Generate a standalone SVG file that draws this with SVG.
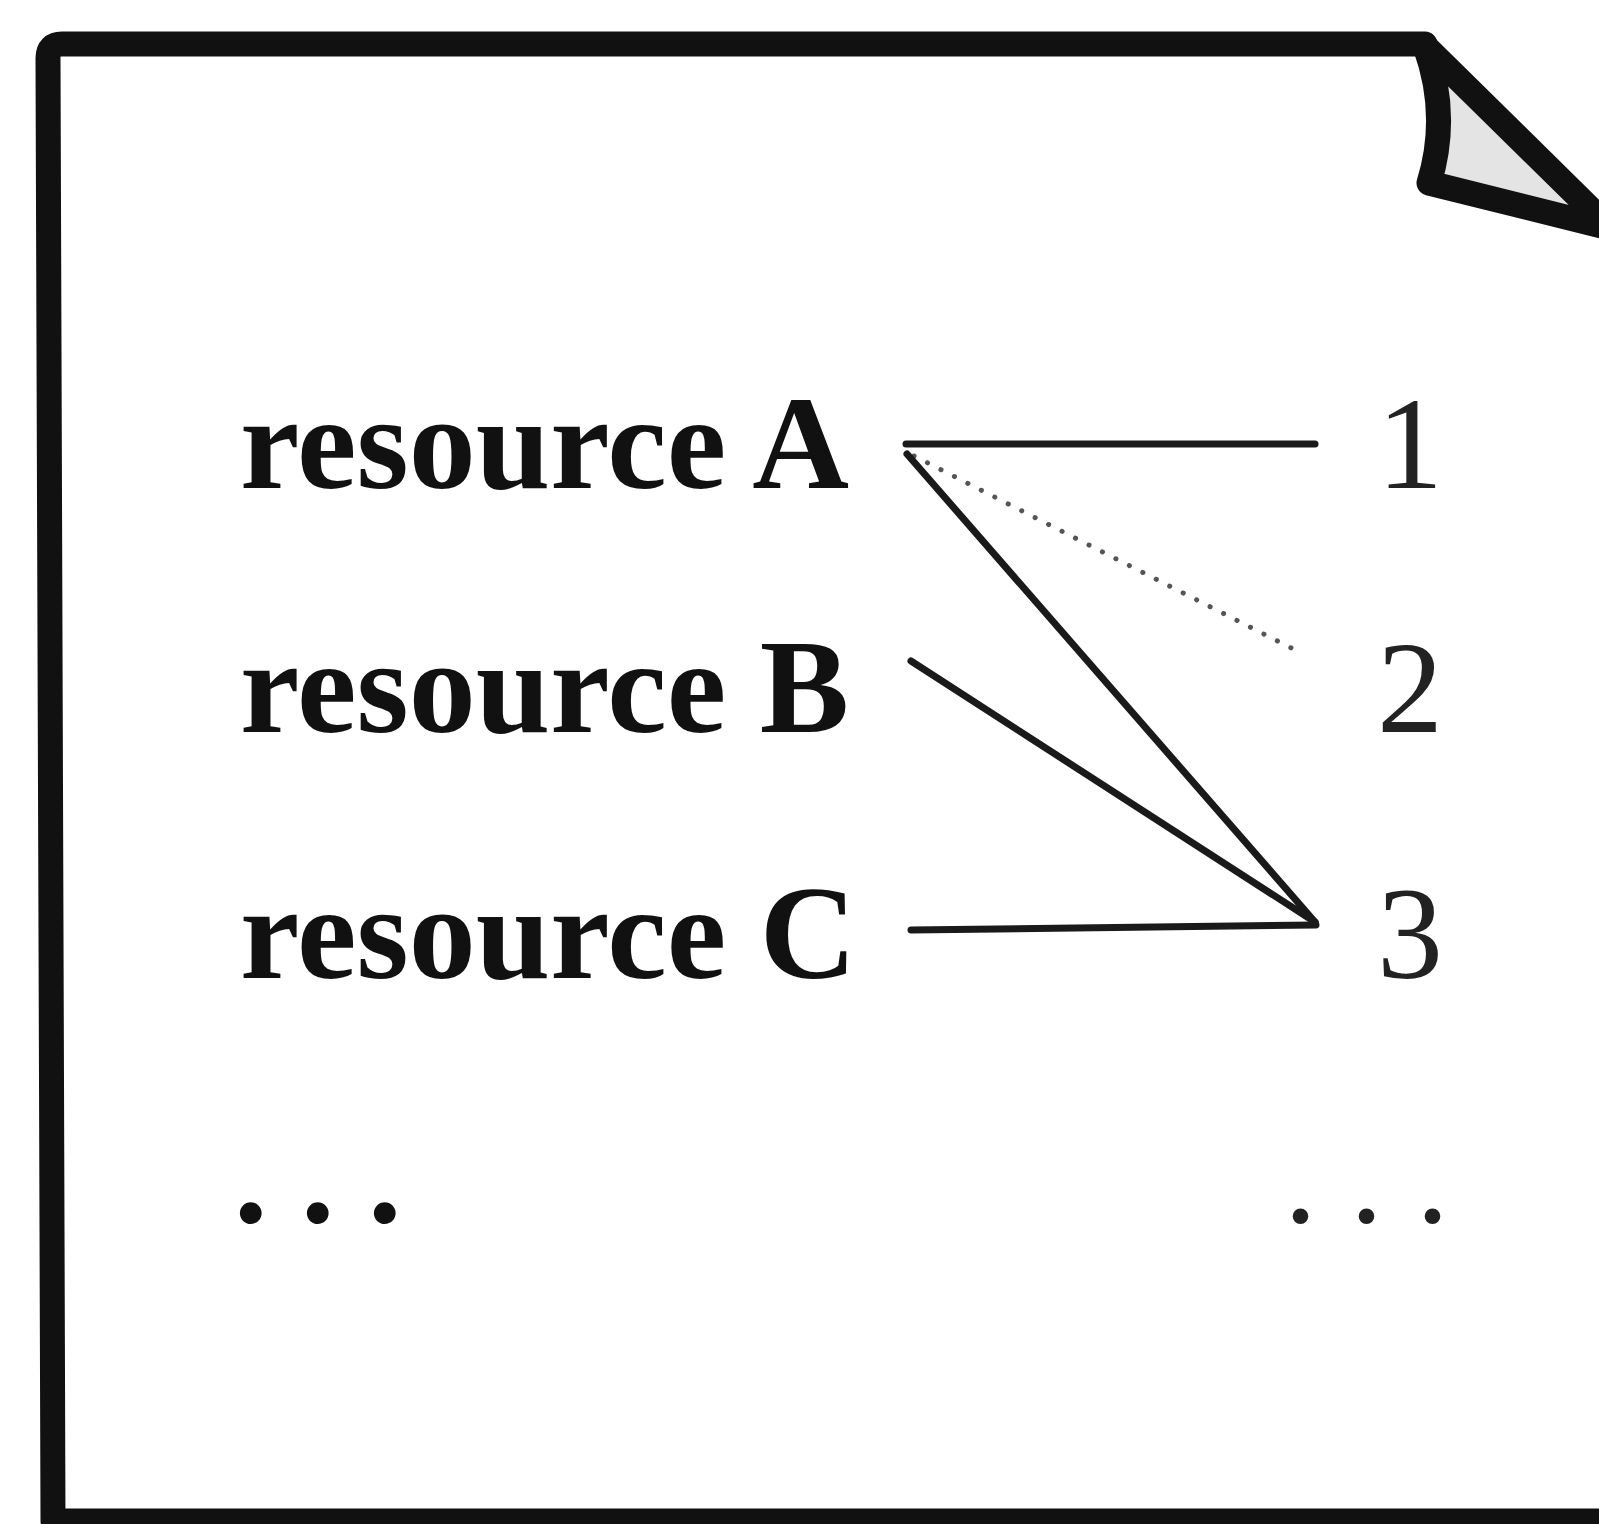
<svg xmlns="http://www.w3.org/2000/svg" width="1599" height="1524" viewBox="0 0 1599 1524">
<style>
.frame{fill:none;stroke:#111;stroke-width:25;stroke-linejoin:round;stroke-linecap:round}
.fold{fill:#e4e4e4;stroke:#111;stroke-width:25;stroke-linejoin:round}
.lbl{font-weight:bold;font-size:134px;fill:#111}
.num{font-size:132px;fill:#222}
.edge{stroke:#1a1a1a;stroke-width:7;fill:none;stroke-linecap:round}
.dot{stroke:#555;stroke-width:5;fill:none;stroke-linecap:round;stroke-dasharray:0.1 15}
</style>
<rect width="1599" height="1524" fill="#fff"/>
<g id="page">
<path class="frame" d="M1425,44 L62,44 Q48,44 48,58 L53,1521 L1620,1521"/>
<path class="fold" d="M1425,46 Q1450,115 1429,183 L1610,228 Z"/>
</g>
<g font-family="Liberation Serif, Times New Roman, serif">
<g id="resourceA"><text class="lbl" x="240" y="488">resource A</text></g>
<g id="resourceB"><text class="lbl" x="240" y="732">resource B</text></g>
<g id="resourceC"><text class="lbl" x="240" y="978">resource C</text></g>
<g id="moreLeft"><text class="lbl" x="234" y="1222">. . .</text></g>
<g id="n1"><text class="num" x="1377" y="488">1</text></g>
<g id="n2"><text class="num" x="1377" y="732">2</text></g>
<g id="n3"><text class="num" x="1377" y="978">3</text></g>
<g id="moreRight"><text class="num" x="1284" y="1222">. . .</text></g>
</g>
<g id="connectors">
<line class="edge" x1="906" y1="444" x2="1315" y2="444"/>
<line class="dot" x1="914" y1="456" x2="1301" y2="653"/>
<line class="edge" x1="907" y1="454" x2="1315" y2="922"/>
<line class="edge" x1="911" y1="661" x2="1315" y2="922"/>
<line class="edge" x1="911" y1="930" x2="1316" y2="925"/>
</g>
</svg>
